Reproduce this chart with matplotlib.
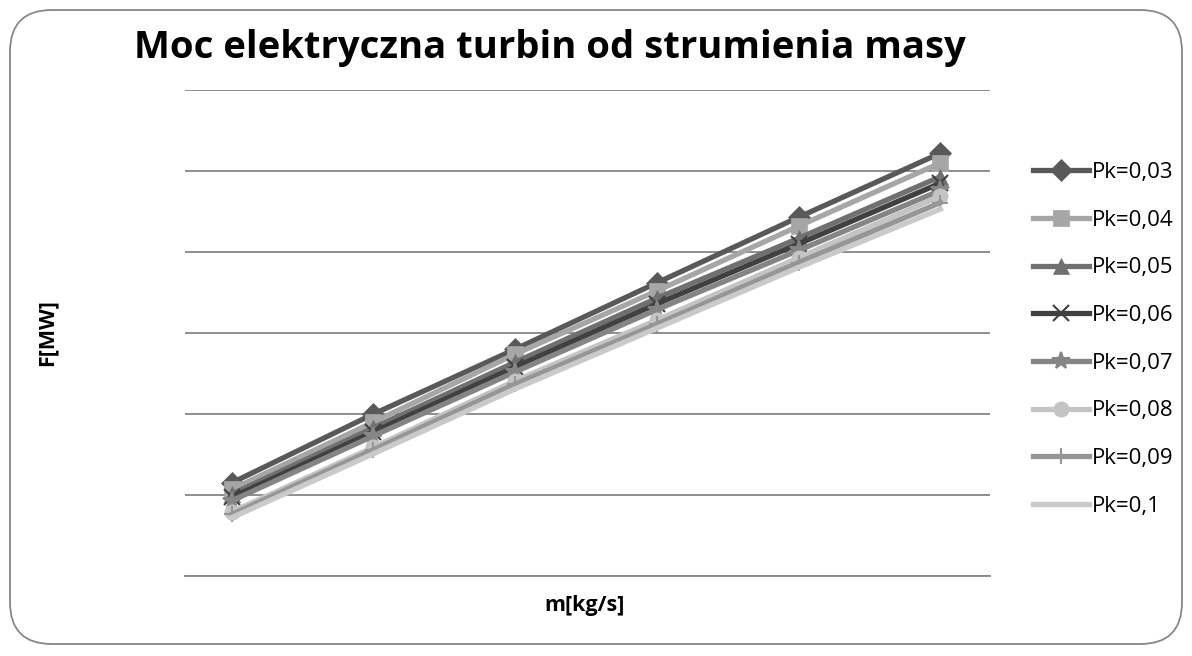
import matplotlib.pyplot as plt
from matplotlib.patches import FancyBboxPatch

# punkty pomiarowe (kategorie osi x, brak opisu wartosci na wykresie)
m_points = [1, 2, 3, 4, 5, 6]

labels = ["Pk=0,03", "Pk=0,04", "Pk=0,05", "Pk=0,06",
          "Pk=0,07", "Pk=0,08", "Pk=0,09", "Pk=0,1"]

pk_003 = [1.15, 2.00, 2.80, 3.62, 4.43, 5.22]
pk_004 = [1.07, 1.90, 2.74, 3.52, 4.32, 5.10]
pk_005 = [1.01, 1.83, 2.64, 3.43, 4.17, 4.93]
pk_006 = [0.97, 1.78, 2.58, 3.36, 4.10, 4.85]
pk_007 = [0.93, 1.73, 2.52, 3.29, 4.02, 4.76]
pk_008 = [0.79, 1.59, 2.41, 3.16, 3.93, 4.69]
pk_009 = [0.76, 1.56, 2.37, 3.11, 3.87, 4.61]
pk_010 = [0.72, 1.51, 2.31, 3.06, 3.81, 4.53]

series = [pk_003, pk_004, pk_005, pk_006, pk_007, pk_008, pk_009, pk_010]
colors = ["#595959", "#a6a6a6", "#707070", "#404040",
          "#858585", "#c4c4c4", "#969696", "#cacaca"]
markers = ["D", "s", "^", "x", "*", "o", "+", None]
msizes = [11, 11, 11, 11, 13, 11, 12, 0]

fig = plt.figure(figsize=(11.92, 6.56), dpi=100)
plt.rcParams['font.family'] = ['Open Sans', 'DejaVu Sans']

# ramka wykresu (zaokraglone rogi)
frame = FancyBboxPatch((10 / 1192, 12 / 656), 1172 / 1192, 634 / 656,
                       boxstyle="round,pad=0,rounding_size=0.035",
                       transform=fig.transFigure, facecolor="white",
                       edgecolor="#878787", linewidth=1.3, mutation_aspect=1192 / 656,
                       zorder=-10)
fig.patches.append(frame)

ax = fig.add_axes([185 / 1192, 1 - 576 / 656, 805 / 1192, 486 / 656])
ax.set_facecolor("none")
ax.set_zorder(5)

for vals, lab, col, mk, ms in zip(series, labels, colors, markers, msizes):
    thin = mk in ("x", "+", "*")
    ax.plot(m_points, vals, color=col, linewidth=3.8, marker=mk, markersize=ms,
            markeredgewidth=1.5 if thin else 0.5,
            markerfacecolor=col, markeredgecolor=col, label=lab, zorder=3)

ax.set_xlim(1 - 0.33, 6 + 0.35)
ax.set_ylim(0, 6)
ax.set_yticks([0, 1, 2, 3, 4, 5, 6])
ax.yaxis.grid(True, color="#868686", linewidth=1.3)
ax.set_axisbelow(True)
ax.tick_params(left=False, bottom=False, labelleft=False, labelbottom=False)
for s in ["top", "right", "left"]:
    ax.spines[s].set_visible(False)
ax.spines["bottom"].set_color("#868686")
ax.spines["bottom"].set_linewidth(1.3)

fig.text(550 / 1192, 1 - 48 / 656, "Moc elektryczna turbin od strumienia masy",
         ha="center", va="center", fontsize=27.5, fontweight="bold")
fig.text(47 / 1192, 1 - 333 / 656, "F[MW]", rotation=90, ha="center", va="center",
         fontsize=15.5, fontweight="bold")
fig.text(585 / 1192, 1 - 605 / 656, "m[kg/s]", ha="center", va="center",
         fontsize=15.5, fontweight="bold")

leg = ax.legend(loc="upper left", bbox_to_anchor=(1033 / 1192, 1 - 162 / 656),
                bbox_transform=fig.transFigure, frameon=False, fontsize=16,
                handlelength=2.5, handletextpad=0.15, labelspacing=1.2,
                borderaxespad=0, borderpad=0)

fig.savefig("out.png", dpi=100)
